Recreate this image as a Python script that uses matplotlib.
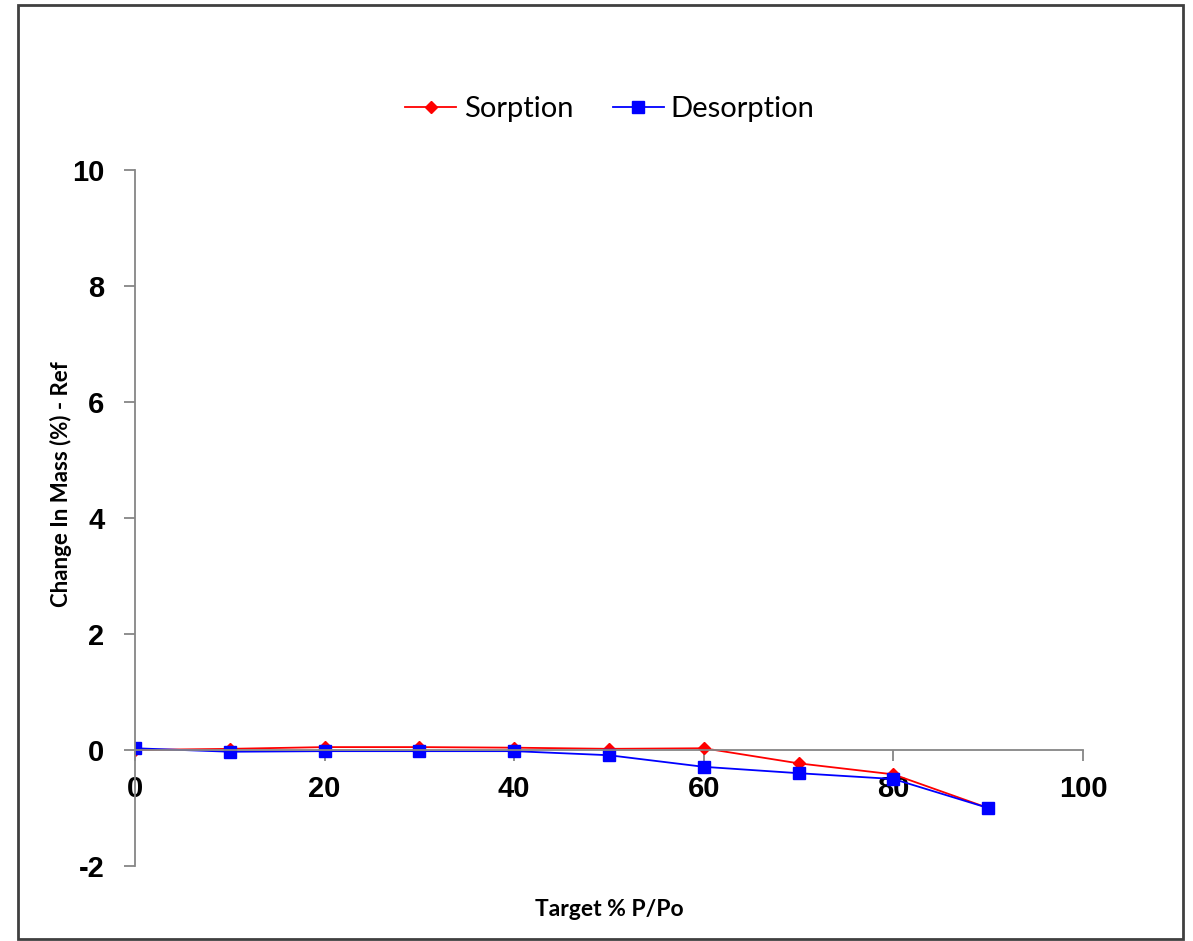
import matplotlib.pyplot as plt
from matplotlib.patches import Rectangle

plt.rcParams['axes.unicode_minus'] = False

target_pp = [0, 10, 20, 30, 40, 50, 60, 70, 80, 90]
sorption = [0.00, 0.02, 0.05, 0.05, 0.04, 0.02, 0.03, -0.23, -0.42, -1.00]
desorption = [0.03, -0.03, -0.02, -0.02, -0.02, -0.09, -0.29, -0.40, -0.50, -1.00]

x_ticks = [0, 20, 40, 60, 80, 100]
y_ticks = [-2, 0, 2, 4, 6, 8, 10]

W, H = 1193, 941
fig = plt.figure(figsize=(W / 100, H / 100), dpi=100)

# outer frame around the whole chart
fig.patches.append(Rectangle((18 / W, 1 - 939 / H), (1183 - 18) / W, (939 - 5) / H,
                             transform=fig.transFigure, fill=False,
                             edgecolor='#404040', linewidth=2))

ax = fig.add_axes([135 / W, 1 - 866 / H, (1083 - 135) / W, (866 - 170) / H])

ax.plot(target_pp, sorption, color='red', marker='D', markersize=6, linewidth=1.3, label='Sorption')
ax.plot(target_pp, desorption, color='blue', marker='s', markersize=9, linewidth=1.3, label='Desorption')

ax.set_xlim(0, 100)
ax.set_ylim(-2, 10)
ax.set_xticks(x_ticks)
ax.set_yticks(y_ticks)

for side in ['top', 'right']:
    ax.spines[side].set_visible(False)
ax.spines['bottom'].set_position(('data', 0))
for side in ['left', 'bottom']:
    ax.spines[side].set_color('#868686')
    ax.spines[side].set_linewidth(1.3)

ax.tick_params(axis='y', direction='out', length=8, color='#868686', width=1.3, pad=14)
ax.tick_params(axis='x', direction='out', length=8, color='#868686', width=1.3, pad=10)
for lbl in ax.get_xticklabels() + ax.get_yticklabels():
    lbl.set_fontfamily('Liberation Sans')
    lbl.set_fontweight('bold')
    lbl.set_fontsize(21)

fig.text(609 / W, 1 - 910 / H, 'Target % P/Po', ha='center', va='center',
         fontsize=16.5, fontweight='bold', family='Lato')
fig.text(61 / W, 1 - 484 / H, 'Change In Mass (%) - Ref', ha='center', va='center',
         rotation=90, fontsize=16, fontweight='bold', family='Lato')

fig.legend(loc='center', bbox_to_anchor=(610 / W, 1 - 109 / H), ncol=2, frameon=False,
           prop={'family': 'Lato', 'size': 21}, handlelength=1.75, columnspacing=1.35,
           handletextpad=0.25)

fig.savefig('out.png', dpi=100)
